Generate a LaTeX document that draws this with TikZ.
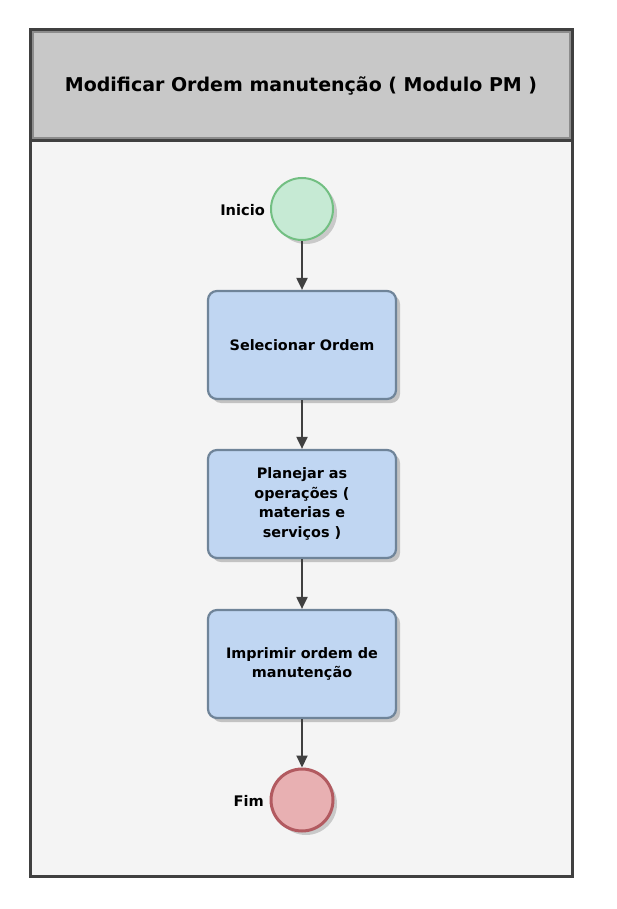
\documentclass[tikz,border=0pt]{standalone}
\usepackage{fontspec}
\setmainfont{DejaVu Sans}
\usetikzlibrary{arrows.meta,shadows}
\definecolor{frame}{HTML}{404040}
\definecolor{hdr}{HTML}{C8C8C8}
\definecolor{bodyc}{HTML}{F4F4F4}
\definecolor{taskfill}{HTML}{C0D6F2}
\definecolor{taskline}{HTML}{6F8499}
\definecolor{startfill}{HTML}{C6EAD4}
\definecolor{startline}{HTML}{72BF82}
\definecolor{endfill}{HTML}{E8B0B2}
\definecolor{endline}{HTML}{B25A60}
\tikzset{
  taskbox/.style={draw=taskline, line width=2.2pt, fill=taskfill, rounded corners=9pt,
    minimum width=188pt, minimum height=108pt, align=center,
    font=\bfseries\fontsize{14.4}{19.5}\selectfont,
    drop shadow={shadow xshift=4pt, shadow yshift=-4pt, opacity=0.35, fill=black!60}},
  startev/.style={circle, draw=startline, line width=2pt, fill=startfill, minimum size=62pt,
    drop shadow={shadow xshift=4pt, shadow yshift=-4pt, opacity=0.3, fill=black!60}},
  endev/.style={circle, draw=endline, line width=3pt, fill=endfill, minimum size=62pt,
    drop shadow={shadow xshift=4pt, shadow yshift=-4pt, opacity=0.3, fill=black!60}},
  evlabel/.style={font=\bfseries\fontsize{14.6}{17}\selectfont, anchor=east, inner sep=0pt},
  flow/.style={draw=frame, line width=2pt, -{Triangle[length=12pt,width=11pt]}},
}
\begin{document}
\begin{tikzpicture}[x=1pt,y=-1pt]
\useasboundingbox (0,0) rectangle (616,909);
\fill[white] (0,0) rectangle (616,909);
% pool
\fill[bodyc] (30,141) rectangle (572,876);
\fill[hdr] (30,30) rectangle (572,141);
\draw[black!45, line width=3pt] (32,32) rectangle (570,139);
\draw[frame, line width=3pt] (30,30) rectangle (572,876);
\draw[frame, line width=3pt] (30,141) -- (572,141);
\node[font=\bfseries\fontsize{19}{22}\selectfont] (title) at (301,86) {Modificar Ordem manutenção ( Modulo PM )};
% nodes
\node[startev] (start) at (302,209) {};
\node[evlabel] (startlbl) at (265,210) {Inicio};
\node[taskbox] (t1) at (302,345) {Selecionar Ordem};
\node[taskbox] (t2) at (302,504) {Planejar as\\operações (\\materias e\\serviços )};
\node[taskbox] (t3) at (302,664) {Imprimir ordem de\\manutenção};
\node[endev] (fim) at (302,800) {};
\node[evlabel] (fimlbl) at (264,801) {Fim};
% flows
\draw[flow] (start) -- (t1);
\draw[flow] (t1) -- (t2);
\draw[flow] (t2) -- (t3);
\draw[flow] (t3) -- (fim);
\end{tikzpicture}
\end{document}
